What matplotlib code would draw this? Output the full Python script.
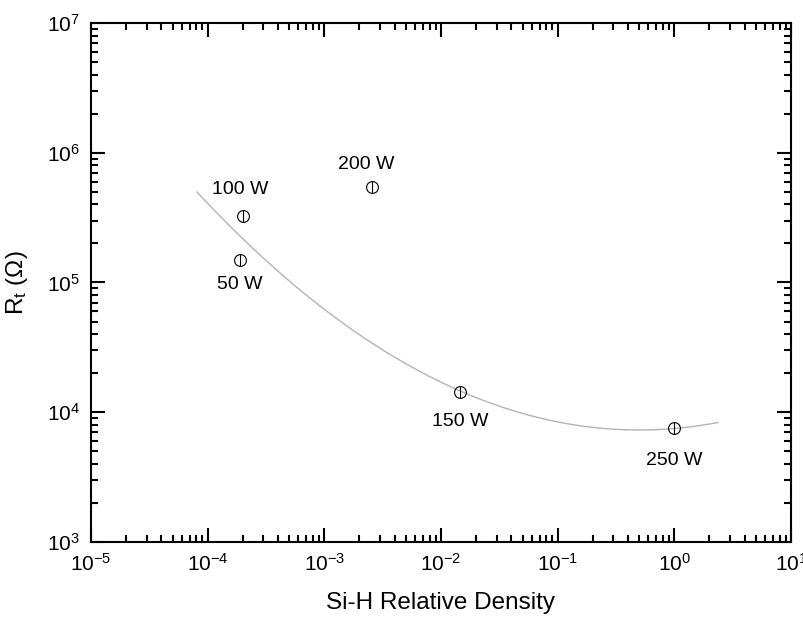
import numpy as np
import matplotlib
matplotlib.use("Agg")
import matplotlib.pyplot as plt
from matplotlib.ticker import LogLocator, NullFormatter, FuncFormatter

plt.rcParams['font.family'] = ['Liberation Sans', 'DejaVu Sans']
plt.rcParams['mathtext.fontset'] = 'custom'
plt.rcParams['mathtext.rm'] = 'Liberation Sans'
plt.rcParams['mathtext.it'] = 'Liberation Sans:italic'

# Data
labels = ["50 W", "100 W", "150 W", "200 W", "250 W"]
si_h_density = [1.89e-4, 2.0e-4, 1.45e-2, 2.56e-3, 1.0]
resistance = [1.49e5, 3.26e5, 1.43e4, 5.45e5, 7.56e3]
# label anchor positions (data coords)
label_x = [1.88e-4, 1.91e-4, 1.45e-2, 2.3e-3, 1.0]
label_y = [9.6e4, 5.2e5, 8.5e3, 8.1e5, 4.25e3]

# quadratic fit in log10-log10 space (coefficients)
fit_coeffs = [0.1276, 0.0766, 3.8745]
fit_range = [8.1e-5, 2.36]

fig = plt.figure(figsize=(8.04, 6.18), dpi=100)
ax = fig.add_axes([0.1132, 0.123, 0.8706, 0.8398])

xf = np.logspace(np.log10(fit_range[0]), np.log10(fit_range[1]), 200)
yf = 10 ** np.polyval(fit_coeffs, np.log10(xf))
ax.plot(xf, yf, color='#b4b4b4', lw=1.0, zorder=1)

ax.plot(si_h_density, resistance, linestyle='none', marker='o', ms=8.5,
        mfc='none', mec='black', mew=0.8, zorder=3)
ax.plot(si_h_density, resistance, linestyle='none', marker='|', ms=8.5,
        mec='black', mew=0.8, zorder=4)

for lab, x, y in zip(labels, label_x, label_y):
    ax.text(x, y, lab, ha='center', va='center', fontsize=14)

ax.set_xscale('log')
ax.set_yscale('log')
ax.set_xlim(1e-5, 10)
ax.set_ylim(1e3, 1e7)

def fmt(v, pos):
    e = int(round(np.log10(v)))
    return r"$\mathregular{10^{%d}}$" % e

ax.xaxis.set_major_locator(LogLocator(base=10, numticks=20))
ax.yaxis.set_major_locator(LogLocator(base=10, numticks=20))
ax.xaxis.set_major_formatter(FuncFormatter(fmt))
ax.yaxis.set_major_formatter(FuncFormatter(fmt))
ax.xaxis.set_minor_locator(LogLocator(base=10, subs=np.arange(2, 10), numticks=20))
ax.yaxis.set_minor_locator(LogLocator(base=10, subs=np.arange(2, 10), numticks=20))
ax.xaxis.set_minor_formatter(NullFormatter())
ax.yaxis.set_minor_formatter(NullFormatter())

ax.tick_params(which='both', direction='in', top=True, right=True, width=1.5)
ax.tick_params(which='major', length=10, labelsize=15, pad=8)
ax.tick_params(which='minor', length=5)
for s in ax.spines.values():
    s.set_linewidth(1.5)

ax.set_xlabel("Si-H Relative Density", fontsize=17.5, labelpad=12)
ax.set_ylabel(r"R$_\mathregular{t}$ ($\Omega$)", fontsize=17.5, labelpad=12)

fig.savefig("out.png", dpi=100)
